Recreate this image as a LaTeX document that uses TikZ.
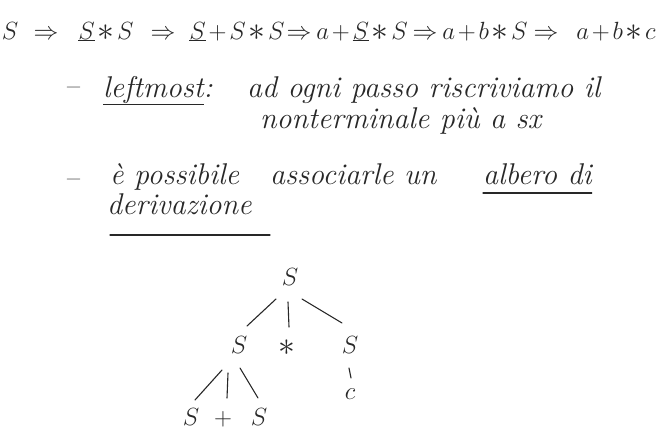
\documentclass[tikz,border=0pt]{standalone}
\usepackage{graphicx}
\usetikzlibrary{calc}
\definecolor{ink}{RGB}{40,40,40}
\newcommand{\bast}{\mathbin{\vcenter{\hbox{\scalebox{1.35}{$\ast$}}}}}
\newcommand{\dm}[1]{$\medmuskip=2mu #1$}
\begin{document}
\begin{tikzpicture}[x=1pt,y=-1pt,
 every node/.style={text=ink, inner sep=0pt},
 mth/.style={anchor=base, font=\fontsize{23}{28}\selectfont},
 txt/.style={anchor=base west, font=\fontsize{30}{36}\selectfont\itshape},
 tnode/.style={font=\fontsize{27}{32}\selectfont},
 pen/.style={draw=ink, line width=1.1pt, line cap=round}]
\useasboundingbox (0,0) rectangle (663,432);
\fill[white] (0,0) rectangle (663,432);
% derivation line
\node[mth] (d0) at (10,39) {\dm{S}};
\node[mth] (a1) at (46,39) {\dm{\Rightarrow}};
\node[mth] (d1) at (106,39) {\dm{\underline{S}\bast S}};
\node[mth] (a2) at (163,39) {\dm{\Rightarrow}};
\node[mth] (d2) at (237,39) {\dm{\underline{S}+S\bast S}};
\node[mth] (a3) at (299,39) {\dm{\Rightarrow}};
\node[mth] (d3) at (362,39) {\dm{a+\underline{S}\bast S}};
\node[mth] (a4) at (425,39) {\dm{\Rightarrow}};
\node[mth] (d4) at (485,39) {\dm{a+b\bast S}};
\node[mth] (a5) at (546,39) {\dm{\Rightarrow}};
\node[mth] (d5) at (616,39) {\dm{a+b\bast c}};
% text lines
\node[txt] (dash1) at (64,95) {--};
\node[txt] (lm) at (103,97) {\underline{leftmost}:};
\node[txt] (l2) at (247,97) {ad ogni passo riscriviamo il};
\node[txt] (l3) at (260,128) {nonterminale più a sx};
\node[txt] (dash2) at (64,187) {--};
\node[txt] (l4a) at (110,184) {è possibile};
\node[txt] (l4b) at (270,184) {associarle un};
\node[txt] (l4c) at (483,184) {albero di};
\draw[pen] ($(l4c.base west)+(0,9)$) -- ($(l4c.base east)+(0,9)$);
\node[txt] (l5) at (107,214) {derivazione};
\draw[pen] ($(l5.base west)+(3,21)$) -- ++(160,0);
% tree
\node[tnode] (root) at (290,277) {$S$};
\node[tnode] (sl) at (239,345) {$S$};
\node[tnode] (st) at (287,348) {$\bast$};
\node[tnode] (sr) at (350,345) {$S$};
\node[tnode] (c) at (350,394) {$c$};
\node[tnode] (ll) at (191,417) {$S$};
\node[tnode] (lp) at (223,419) {$+$};
\node[tnode] (lr) at (259,417) {$S$};
\draw[pen] ($(root)+(-14,22)$) -- ($(sl)+(8,-19)$);
\draw[pen] ($(root)+(-2,25)$) -- ($(st)+(2,-21)$);
\draw[pen] ($(root)+(12,22)$) -- ($(sr)+(-8,-22)$);
\draw[pen] ($(sr)+(-1,23)$) -- ($(c)+(1,-16)$);
\draw[pen] ($(sl)+(-17,25)$) -- ($(ll)+(4,-17)$);
\draw[pen] ($(sl)+(-11,28)$) -- ($(lp)+(4,-21)$);
\draw[pen] ($(sl)+(1,23)$) -- ($(lr)+(-1,-19)$);
\end{tikzpicture}
\end{document}
